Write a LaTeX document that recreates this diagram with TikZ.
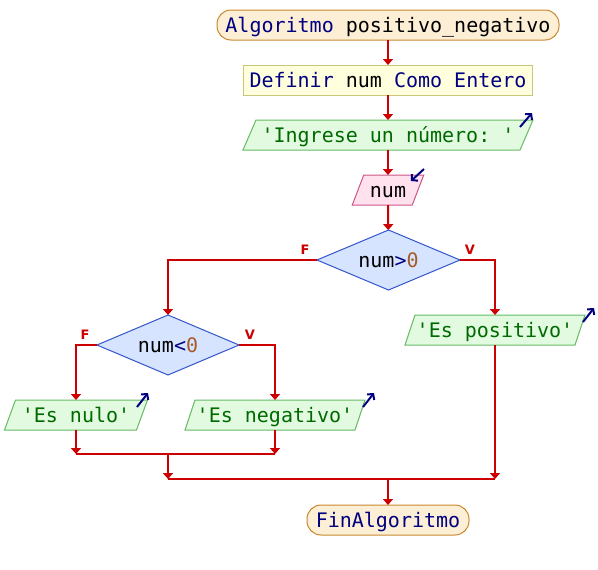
\documentclass[tikz,border=0pt]{standalone}
\usepackage{fontspec}
\setmonofont{DejaVu Sans Mono}
\setsansfont{DejaVu Sans}
\usetikzlibrary{arrows.meta,shapes.geometric,backgrounds}

\definecolor{kw}{HTML}{000080}
\definecolor{strc}{HTML}{006A00}
\definecolor{numc}{HTML}{A85A28}
\definecolor{flow}{HTML}{CC0000}
\definecolor{termfill}{HTML}{FCEFD6}
\definecolor{termline}{HTML}{C8882E}
\definecolor{procfill}{HTML}{FFFFDD}
\definecolor{procline}{HTML}{C8C878}
\definecolor{outfill}{HTML}{E2FAE0}
\definecolor{outline}{HTML}{66BB66}
\definecolor{infill}{HTML}{FFE2EE}
\definecolor{inline}{HTML}{CC5588}
\definecolor{decfill}{HTML}{D6E4FF}
\definecolor{decline}{HTML}{3355CC}

\newcommand\kw[1]{{\color{kw}#1}}
\newcommand\strtxt[1]{{\color{strc}#1}}
\newcommand\numtxt[1]{{\color{numc}#1}}

% parallelogram behind a named node: style, node, half of the slant
\newcommand\slantbox[3]{%
  \begin{pgfonlayer}{background}
    \filldraw[#1] ([xshift=#3]#2.north west) -- ([xshift=#3]#2.north east)
      -- ([xshift=-#3]#2.south east) -- ([xshift=-#3]#2.south west) -- cycle;
  \end{pgfonlayer}}

\tikzset{
  code/.style={font=\ttfamily\fontsize{20}{24}\selectfont, inner sep=0pt, outer sep=0pt,
    text height=14.6pt, text depth=0pt, align=center},
  term/.style={code, draw=termline, fill=termfill, line width=1pt, rounded corners=14pt,
    minimum height=30pt},
  proc/.style={code, draw=procline, fill=procfill, line width=1pt, minimum height=30pt},
  iobox/.style={code, minimum height=30pt},
  outshape/.style={draw=outline, fill=outfill, line width=1pt},
  inshape/.style={draw=inline, fill=infill, line width=1pt},
  decision/.style={code, shape=diamond, aspect=2.38, draw=decline, fill=decfill,
    line width=1pt, minimum height=60pt},
  lbl/.style={font=\sffamily\bfseries\fontsize{13}{15}\selectfont, text=flow, inner sep=0pt},
  conn/.style={draw=flow, line width=2pt},
  arr/.style={conn, -{Triangle[width=10pt,length=6pt]}},
  ioarrow/.style={draw=kw, line width=2pt, -{Straight Barb[length=4pt,width=9pt]}},
}

\begin{document}
\begin{tikzpicture}[x=1pt,y=-1pt]
\useasboundingbox (0,0) rectangle (598,570);

% main column
\node[term, minimum width=342pt] (start) at (388,25) {\kw{Algoritmo} positivo\_negativo};
\node[proc, minimum width=289pt] (def) at (388,80) {\kw{Definir} num \kw{Como Entero}};
\node[iobox, minimum width=277pt] (ingrese) at (388,135) {\strtxt{'Ingrese un número: '}};
\slantbox{outshape}{ingrese}{6.5pt}
\node[iobox, minimum width=60pt] (num) at (388,190) {num};
\slantbox{inshape}{num}{5.75pt}
\node[decision, minimum width=143pt] (dec1) at (388.5,260) {num\kw{>}\numtxt{0}};

% branches
\node[iobox, minimum width=170pt] (positivo) at (495,330) {\strtxt{'Es positivo'}};
\slantbox{outshape}{positivo}{5pt}
\node[decision, minimum width=142pt] (dec2) at (168,345) {num\kw{<}\numtxt{0}};
\node[iobox, minimum width=132pt] (nulo) at (76,415) {\strtxt{'Es nulo'}};
\slantbox{outshape}{nulo}{5.5pt}
\node[iobox, minimum width=170pt] (negativo) at (275,415) {\strtxt{'Es negativo'}};
\slantbox{outshape}{negativo}{5pt}

\node[term, minimum width=162pt] (fin) at (388,520) {\kw{FinAlgoritmo}};

% branch labels
\node[lbl] (f1) at (305,250) {F};
\node[lbl] (v1) at (470,250) {V};
\node[lbl] (f2) at (85,335) {F};
\node[lbl] (v2) at (250,335) {V};

% input / output markers
\draw[ioarrow] (520,127) -- (532,113);
\draw[ioarrow] (424,169) -- (411,181);
\draw[ioarrow] (583,322) -- (594,308);
\draw[ioarrow] (137,407) -- (148,393);
\draw[ioarrow] (363,407) -- (374,393);

% join points
\coordinate (j1) at (168,454);
\coordinate (j2) at (388,479);

% connectors
\draw[arr] (start) -- (def);
\draw[arr] (def) -- (ingrese);
\draw[arr] (ingrese) -- (num);
\draw[arr] (num) -- (dec1);
\draw[arr] (dec1.west) -| (dec2.north);
\draw[arr] (dec1.east) -| (positivo.north);
\draw[arr] (dec2.west) -| (nulo.north);
\draw[arr] (dec2.east) -| (negativo.north);
\draw[arr] (nulo.south) -- (nulo.south |- j1);
\draw[arr] (negativo.south) -- (negativo.south |- j1);
\draw[conn] (nulo.south |- j1) -- (negativo.south |- j1);
\draw[arr] (j1) -- (j1 |- j2);
\draw[arr] (positivo.south) -- (positivo.south |- j2);
\draw[conn] (j1 |- j2) -- (positivo.south |- j2);
\draw[arr] (j2) -- (fin.north);
\end{tikzpicture}
\end{document}
